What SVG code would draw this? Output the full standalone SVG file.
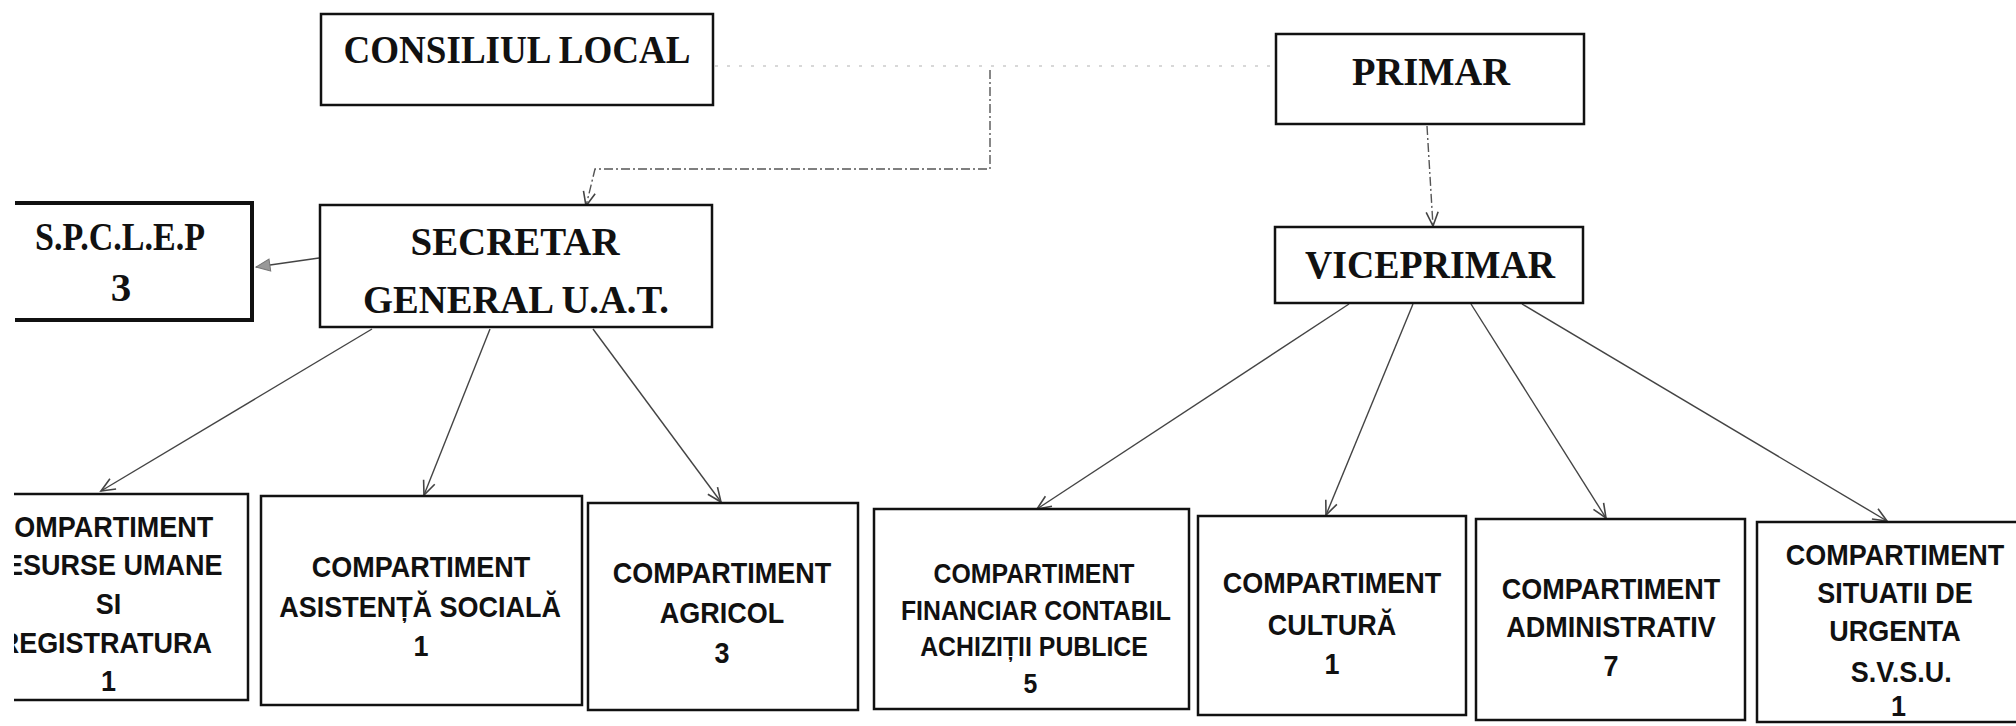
<svg xmlns="http://www.w3.org/2000/svg" width="2016" height="726" viewBox="0 0 2016 726">
<defs>
<style>
.box{fill:#fff;stroke:#111;stroke-width:2.5}
.thick{fill:none;stroke:#111;stroke-width:4}
.ser{font-family:"Liberation Serif","Times New Roman",serif;font-weight:bold;fill:#111;text-anchor:middle;font-size:41px}
.san{font-family:"Liberation Sans",Arial,sans-serif;font-weight:bold;fill:#111;text-anchor:middle;font-size:30px}
.sm{font-size:27px}
.ln{fill:none;stroke:#444;stroke-width:1.4}
.dash{fill:none;stroke:#555;stroke-width:1.4;stroke-dasharray:9 3 2 3}
.dot{fill:none;stroke:#ccc;stroke-width:1.5;stroke-dasharray:3 9}
</style>
<marker id="open" viewBox="-1 -8 17 16" refX="14" refY="0" markerWidth="17" markerHeight="16" markerUnits="userSpaceOnUse" orient="auto">
<path d="M0,-6 L14,0 L0,6" fill="none" stroke="#444" stroke-width="1.6"/>
</marker>
<marker id="fill" viewBox="-1 -8 17 16" refX="14" refY="0" markerWidth="17" markerHeight="16" markerUnits="userSpaceOnUse" orient="auto">
<path d="M0,-6 L14,0 L0,6 Z" fill="#999" stroke="#777" stroke-width="1"/>
</marker>
<clipPath id="leftcrop"><rect x="14" y="0" width="2002" height="726"/></clipPath>
</defs>

<g id="connectors">
<line class="dot" x1="715" y1="66" x2="1275" y2="66"/>
<path class="dash" d="M990,70 V169 H595 L586,206" marker-end="url(#open)"/>
<line class="dash" x1="1427" y1="126" x2="1433" y2="226" marker-end="url(#open)"/>
<line class="ln" x1="319" y1="258" x2="256" y2="267" marker-end="url(#fill)"/>
<line class="ln" x1="372" y1="329" x2="101" y2="491" marker-end="url(#open)"/>
<line class="ln" x1="490" y1="329" x2="424" y2="495" marker-end="url(#open)"/>
<line class="ln" x1="593" y1="329" x2="721" y2="502" marker-end="url(#open)"/>
<line class="ln" x1="1349" y1="304" x2="1037" y2="509" marker-end="url(#open)"/>
<line class="ln" x1="1413" y1="304" x2="1326" y2="515" marker-end="url(#open)"/>
<line class="ln" x1="1471" y1="304" x2="1606" y2="518" marker-end="url(#open)"/>
<line class="ln" x1="1522" y1="304" x2="1887" y2="521" marker-end="url(#open)"/>
</g>

<g id="consiliul-local">
<rect class="box" x="321" y="14" width="392" height="91"/>
<text class="ser" x="517" y="63" textLength="347" lengthAdjust="spacingAndGlyphs">CONSILIUL LOCAL</text>
</g>

<g id="primar">
<rect class="box" x="1276" y="34" width="308" height="90"/>
<text class="ser" x="1431" y="85" textLength="158" lengthAdjust="spacingAndGlyphs">PRIMAR</text>
</g>

<g id="viceprimar">
<rect class="box" x="1275" y="227" width="308" height="76"/>
<text class="ser" x="1430" y="278" textLength="250" lengthAdjust="spacingAndGlyphs">VICEPRIMAR</text>
</g>

<g id="secretar">
<rect class="box" x="320" y="205" width="392" height="122"/>
<text class="ser" x="515" y="255" textLength="209" lengthAdjust="spacingAndGlyphs">SECRETAR</text>
<text class="ser" x="516" y="313" textLength="306" lengthAdjust="spacingAndGlyphs">GENERAL U.A.T.</text>
</g>

<g id="spclep">
<path class="thick" d="M15,203 H252 V320 H15"/>
<text class="ser" x="120" y="250" textLength="170" lengthAdjust="spacingAndGlyphs">S.P.C.L.E.P</text>
<text class="ser" x="121" y="301">3</text>
</g>

<g id="resurse-umane" clip-path="url(#leftcrop)">
<path class="box" d="M14,494 H248 V700 H14" fill="none"/>
<g transform="translate(104 0) scale(0.9 1)">
<text class="san" x="0" y="537">COMPARTIMENT</text>
<text class="san" x="0" y="575">RESURSE UMANE</text>
<text class="san" x="5" y="614">SI</text>
<text class="san" x="2" y="653">REGISTRATURA</text>
<text class="san" x="5" y="691">1</text>
</g>
</g>

<g id="asistenta-sociala">
<rect class="box" x="261" y="496" width="321" height="209"/>
<g transform="translate(421 0) scale(0.9 1)">
<text class="san" x="0" y="577">COMPARTIMENT</text>
<text class="san" x="-1" y="617">ASISTENȚĂ SOCIALĂ</text>
<text class="san" x="0" y="656">1</text>
</g>
</g>

<g id="agricol">
<rect class="box" x="588" y="503" width="270" height="207"/>
<g transform="translate(722 0) scale(0.9 1)">
<text class="san" x="0" y="583">COMPARTIMENT</text>
<text class="san" x="0" y="623">AGRICOL</text>
<text class="san" x="0" y="663">3</text>
</g>
</g>

<g id="financiar-contabil">
<rect class="box" x="874" y="509" width="315" height="200"/>
<g transform="translate(1034 0) scale(0.92 1)">
<text class="san sm" x="0" y="583">COMPARTIMENT</text>
<text class="san sm" x="2" y="620">FINANCIAR CONTABIL</text>
<text class="san sm" x="0" y="656">ACHIZIȚII PUBLICE</text>
<text class="san sm" x="-4" y="693">5</text>
</g>
</g>

<g id="cultura">
<rect class="box" x="1198" y="516" width="268" height="199"/>
<g transform="translate(1332 0) scale(0.9 1)">
<text class="san" x="0" y="593">COMPARTIMENT</text>
<text class="san" x="0" y="635">CULTURĂ</text>
<text class="san" x="0" y="674">1</text>
</g>
</g>

<g id="administrativ">
<rect class="box" x="1476" y="519" width="269" height="201"/>
<g transform="translate(1611 0) scale(0.9 1)">
<text class="san" x="0" y="599">COMPARTIMENT</text>
<text class="san" x="0" y="637">ADMINISTRATIV</text>
<text class="san" x="0" y="676">7</text>
</g>
</g>

<g id="situatii-urgenta">
<rect class="box" x="1757" y="522" width="280" height="200"/>
<g transform="translate(1895 0) scale(0.9 1)">
<text class="san" x="0" y="565">COMPARTIMENT</text>
<text class="san" x="0" y="603">SITUATII DE</text>
<text class="san" x="0" y="641">URGENTA</text>
<text class="san" x="7" y="682">S.V.S.U.</text>
<text class="san" x="4" y="716">1</text>
</g>
</g>
</svg>
